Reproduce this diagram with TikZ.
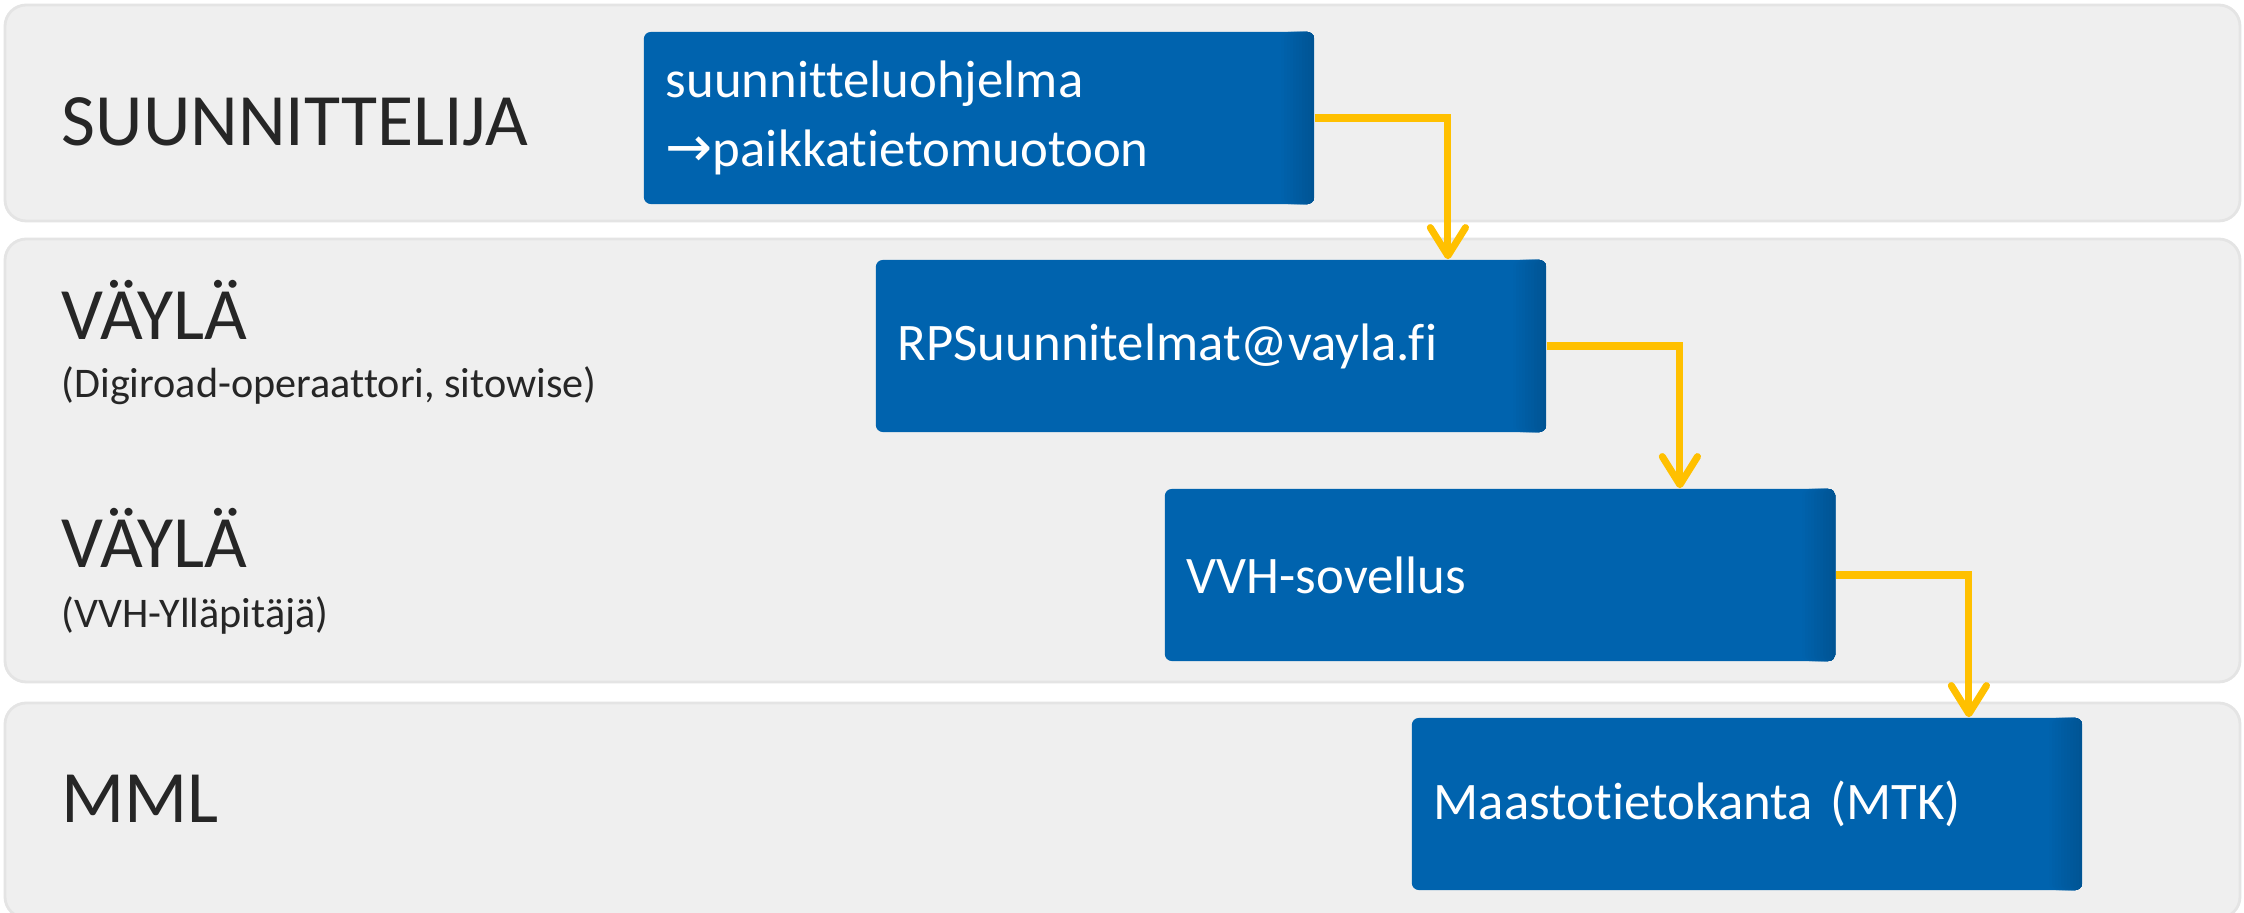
\documentclass[tikz,border=0pt]{standalone}
\usepackage{fontspec}
\setmainfont{Carlito}[Ligatures=NoCommon]
\newfontfamily\arrowfont{DejaVu Sans}
\usetikzlibrary{arrows.meta}
\usepackage{xcolor}
\definecolor{bandgray}{RGB}{239,239,239}
\definecolor{bandedge}{RGB}{228,228,228}
\definecolor{boxblue}{RGB}{0,99,174}
\definecolor{boxdark}{RGB}{0,83,146}
\definecolor{flowyellow}{RGB}{255,192,0}
\definecolor{labelgray}{RGB}{38,38,38}

\begin{document}
\begin{tikzpicture}[x=0.01cm,y=-0.01cm]
	 \tikzstyle{band}=[fill=bandgray,draw=bandedge,line width=0.8pt,rounded corners=6pt]
	 \tikzstyle{stepbox}=[rectangle,fill=boxblue,rounded corners=2pt,minimum width=6.7cm,minimum height=1.72cm,text width=6.26cm,inner xsep=0.22cm,align=left,text=white,font=\fontsize{15}{19.5}\selectfont,
	   path picture={\foreach \i in {1,...,12}
	     \fill[boxdark!\the\numexpr\i*100/12\relax!boxblue] ([xshift=-0.36cm+\i*0.03cm]path picture bounding box.north east) rectangle (path picture bounding box.south east);}]
	 \tikzstyle{role}=[anchor=base west,inner sep=0pt,text=labelgray,font=\fontsize{21}{25}\selectfont]
	 \tikzstyle{rolenote}=[anchor=base west,inner sep=0pt,text=labelgray,font=\fontsize{12}{14}\selectfont]
	 \tikzstyle{flow}=[draw=flowyellow,line width=2pt,-{Straight Barb[length=8pt,width=10pt,round]}]

	\useasboundingbox (0,0) rectangle (2244,913);

	% lanes
	\draw[band] (5,5) rectangle (2240,221);
	\draw[band] (5,239) rectangle (2240,682);
	\draw[band] (5,703) rectangle (2240,918);

	\node[role] (l0) at (61,146) {SUUNNITTELIJA};
	\node[role] (l1) at (61,340) {VÄYLÄ};
	\node[rolenote] (n1) at (61,398) {(Digiroad-operaattori, sitowise)};
	\node[role] (l2) at (61,568) {VÄYLÄ};
	\node[rolenote] (n2) at (61,628) {(VVH-Ylläpitäjä)};
	\node[role] (l3) at (61,823) {MML};

	% steps
	\node[stepbox] (b0) at (979,118) {suunnitteluohjelma\\{\arrowfont\fontsize{16}{19.5}\selectfont →}paikkatietomuotoon};
	\node[stepbox] (b1) at (1211,346) {RPSuunnitelmat@vayla.fi};
	\node[stepbox] (b2) at (1500,575) {VVH-sovellus};
	\node[stepbox] (b3) at (1747,804) {Maastotietokanta (MTK)};

	\draw[flow] (b0.east) -- ++(133,0) coordinate (k0) -- (k0 |- b1.north);
	\draw[flow] (b1.east) -- ++(133,0) coordinate (k1) -- (k1 |- b2.north);
	\draw[flow] (b2.east) -- ++(133,0) coordinate (k2) -- (k2 |- b3.north);
 \end{tikzpicture}
\end{document}
